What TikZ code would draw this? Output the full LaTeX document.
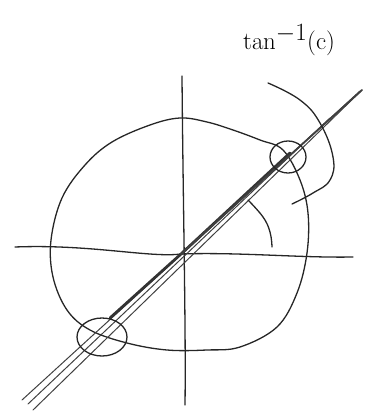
\documentclass[tikz,border=0pt]{standalone}
\usepackage{amsmath, amssymb}
\usetikzlibrary{calc}

\begin{document}
\begin{tikzpicture}[x=1pt, y=-1pt]
        % --- 1. Styles ---
        \tikzset{pen/.style={line width=1.3pt, line cap=round, line join=round, black!85},
                 strand/.style={line width=1pt, line cap=round, black!75}}
        \useasboundingbox (0,0) rectangle (373,419);

        % --- 2. Axes ---
        \coordinate (O) at (181,254);
        \coordinate (Ytop) at (182,76);
        \coordinate (Ybot) at (185,405);
        \coordinate (Xleft) at (15,247);
        \coordinate (Xright) at (353,257);
        \draw[pen] (Ytop) .. controls (183,200) and (186,330) .. (Ybot);
        \draw[pen] (Xleft) .. controls (90,244) and (150,258) .. (O)
                   .. controls (240,252) and (300,258) .. (Xright);

        % --- 3. Wobbly circle ---
        \draw[pen] plot[smooth cycle, tension=0.6] coordinates {
            (180,118) (150,125) (112,142) (85,165) (62,198) (51,240) (53,277)
            (67,310) (90,330) (127,343) (167,350) (207,350) (240,347) (277,327)
            (297,293) (307,253) (308,213) (300,180) (283,150) (260,140)
            (233,130) (207,122)};

        % --- 4. The line through the origin ---
        \coordinate (LL) at (28,404);
        \coordinate (UR) at (362,90);
        \draw[strand] (22,400) -- (360,91);
        \draw[strand] (33,410) -- (UR);
        \draw[strand] (LL) -- (330,118);
        \draw[line width=2.8pt, line cap=round, black!80] (110,318) -- (O) -- (290,153);
        \draw[line width=1.8pt, line cap=round, black!75] (O) -- (UR);

        % --- 5. Little loops where the line leaves the circle ---
        \draw[pen] (288,157) ellipse (18 and 16);
        \draw[pen] (102,337) ellipse (25 and 19);

        % --- 6. Angle arcs ---
        \draw[pen] plot[smooth, tension=0.7] coordinates {
            (268,83) (300,100) (320,123) (333,157) (330,180) (313,193) (292,204)};
        \draw[pen] plot[smooth, tension=0.7] coordinates {
            (248,200) (263,217) (270,232) (272,247)};

        % --- 7. Label ---
        \node (lbl) at (289,40) {\fontsize{38}{42}\selectfont $\tan^{-1}(\mathrm{c})$};
    \end{tikzpicture}
\end{document}
